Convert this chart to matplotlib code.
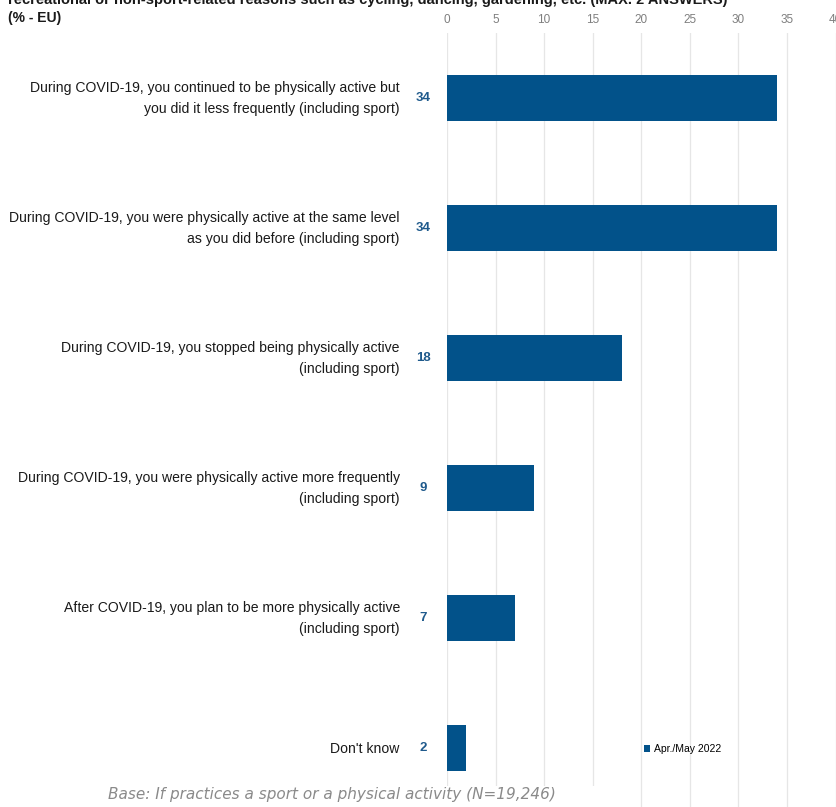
import matplotlib
matplotlib.use("Agg")
import matplotlib.pyplot as plt
from matplotlib.patches import Rectangle

categories = [
    "During COVID-19, you continued to be physically active but\nyou did it less frequently (including sport)",
    "During COVID-19, you were physically active at the same level\nas you did before (including sport)",
    "During COVID-19, you stopped being physically active\n(including sport)",
    "During COVID-19, you were physically active more frequently\n(including sport)",
    "After COVID-19, you plan to be more physically active\n(including sport)",
    "Don't know",
]
values = [34, 34, 18, 9, 7, 2]
series_name = "Apr./May 2022"
xticks = [0, 5, 10, 15, 20, 25, 30, 35, 40]
title_line1 = "recreational or non-sport-related reasons such as cycling, dancing, gardening, etc. (MAX. 2 ANSWERS)"
title_line2 = "(% - EU)"
footnote = "Base: If practices a sport or a physical activity (N=19,246)"

FONT = "Liberation Sans"
BAR = "#02528a"
W, H = 837, 807
fig = plt.figure(figsize=(W / 100, H / 100), dpi=100)

def fx(px):
    return px / W

def fy(py):
    return 1 - py / H

ax_left, ax_right = 447, 835.6
ax_top, ax_bottom = 33, 807
ax = fig.add_axes([fx(ax_left), fy(ax_bottom), fx(ax_right) - fx(ax_left), fy(ax_top) - fy(ax_bottom)])

ypos = list(range(len(categories)))
ax.barh(ypos, values, height=0.35, color=BAR, label=series_name, zorder=3)
ax.set_xlim(0, 40)
top_units = -(98 - ax_top) / 130
bottom_units = 5 + (ax_bottom - 748) / 130
ax.set_ylim(bottom_units, top_units)

ax.xaxis.tick_top()
ax.set_xticks(xticks)
ax.set_xticklabels([str(t) for t in xticks], fontsize=8.5, color="#7f7f7f", family=FONT)
ax.tick_params(axis="x", length=0, pad=5)
ax.set_yticks([])
for s in ax.spines.values():
    s.set_visible(False)
ax.grid(axis="x", color="#e6e6e6", linewidth=0.9, zorder=0)
ax.set_axisbelow(True)

for y, v, c in zip(ypos, values, categories):
    ax.annotate(str(v), (0, y), xytext=(-17, 0), textcoords="offset points",
                ha="center", va="center", fontsize=9.5, fontweight="bold", color="#1f5a8c",
                family=FONT, annotation_clip=False)
    ax.annotate(c, (0, y), xytext=(-34, -0.5), textcoords="offset points",
                ha="right", va="center", fontsize=10.1, color="#1a1a1a", family=FONT,
                linespacing=1.6, annotation_clip=False)

fig.legend(handles=[ax.patches[0]], labels=[series_name], loc="center left",
           bbox_to_anchor=(fx(640), fy(749)), frameon=False,
           prop={"family": FONT, "size": 7.5},
           handlelength=0.6, handleheight=0.6, handletextpad=0.3, borderaxespad=0)

fig.text(fx(8), fy(0), title_line1, ha="left", va="center", fontsize=10.5, fontweight="bold",
         color="#1a1a1a", family=FONT)
fig.text(fx(8), fy(18), title_line2, ha="left", va="center", fontsize=10, fontweight="bold",
         color="#1a1a1a", family=FONT)

fig.patches.append(Rectangle((0, 0), fx(610), fy(786), transform=fig.transFigure,
                             facecolor="white", edgecolor="none", zorder=5))
fig.text(fx(108), fy(795), footnote, ha="left", va="center", fontsize=11,
         style="italic", color="#8a8a8a", zorder=6)

fig.savefig("out.png", dpi=100)
